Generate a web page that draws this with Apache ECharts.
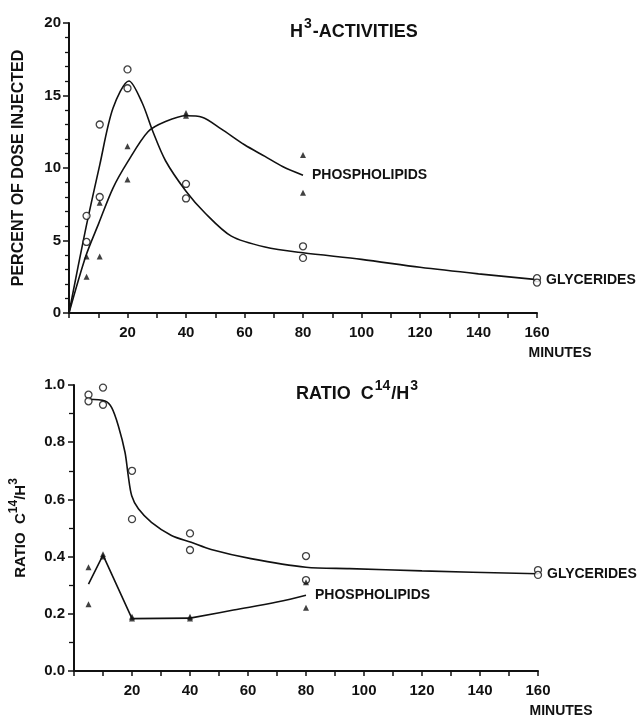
<!DOCTYPE html>
<html>
<head>
<meta charset="utf-8">
<title>H3 activities and C14/H3 ratio</title>
<script src="https://cdn.jsdelivr.net/npm/echarts@6/dist/echarts.min.js"></script>
<style>
  html, body { margin: 0; padding: 0; background: #fff; }
  #chart { width: 639px; height: 719px; }
</style>
</head>
<body>
<div id="chart"></div>
<script>
// upper panel - H3 activities, percent of dose injected
const topGlyTimes = [6, 6, 10.5, 10.5, 20, 20, 40, 40, 80, 80, 160, 160];
const topGlyValues = [6.7, 4.9, 13.0, 8.0, 16.8, 15.5, 8.9, 7.9, 4.6, 3.8, 2.4, 2.1];
const topPhoTimes = [6, 6, 10.5, 10.5, 20, 20, 40, 40, 80, 80];
const topPhoValues = [3.9, 2.5, 7.6, 3.9, 11.5, 9.2, 13.8, 13.6, 10.9, 8.3];

// hand drawn curves
const topGlyCurveX = [0, 5.5, 10.5, 15, 20.5, 25, 28.5, 33, 40, 46.5, 55.5, 67, 80, 100, 120, 140, 160];
const topGlyCurveY = [0, 5.6, 10.2, 14.1, 16.0, 14.5, 12.6, 10.5, 8.4, 6.9, 5.3, 4.55, 4.15, 3.7, 3.15, 2.7, 2.3];
const topPhoCurveX = [0, 5.7, 10.2, 15, 20, 27, 33, 40, 45.5, 52, 60, 67, 73, 80];
const topPhoCurveY = [0, 3.9, 6.2, 8.6, 10.4, 12.5, 13.2, 13.6, 13.5, 12.7, 11.6, 10.8, 10.1, 9.5];

// lower panel - ratio C14/H3
const botGlyTimes = [5, 5, 10, 10, 20, 20, 40, 40, 80, 80, 160, 160];
const botGlyValues = [0.966, 0.943, 0.991, 0.931, 0.70, 0.531, 0.481, 0.423, 0.402, 0.318, 0.353, 0.336];
const botPhoTimes = [5, 5, 10, 10, 20, 20, 40, 40, 80, 80];
const botPhoValues = [0.363, 0.233, 0.408, 0.40, 0.19, 0.184, 0.19, 0.184, 0.31, 0.221];

const botGlyCurveX = [5, 10.7, 13, 15.3, 17.6, 18.7, 19.9, 22.2, 26.7, 33.6, 40.4, 47.3, 61, 80, 95, 120, 160];
const botGlyCurveY = [0.95, 0.944, 0.921, 0.857, 0.764, 0.683, 0.613, 0.567, 0.52, 0.474, 0.45, 0.425, 0.393, 0.363, 0.358, 0.35, 0.34];
// phospholipid ratio: ruled segments up to 40 min, then a curve
const botPhoRuledX = [5, 10, 20, 40];
const botPhoRuledY = [0.304, 0.405, 0.183, 0.185];
const botPhoCurveX = [40, 55, 70, 80];
const botPhoCurveY = [0.185, 0.213, 0.241, 0.265];

const INK = '#111';
const FONT = 'Liberation Sans';

function pairs(xs, ys) {
  return xs.map((x, i) => [x, ys[i]]);
}

const supRich = {
  a: { fontSize: 18, fontWeight: 'bold', color: INK, fontFamily: FONT },
  s: { fontSize: 14, fontWeight: 'bold', color: INK, fontFamily: FONT, padding: [0, 1, 16, 1] }
};

function xAxisFor(gridIndex) {
  return {
    gridIndex: gridIndex,
    type: 'value',
    min: 0,
    max: 160,
    interval: 20,
    axisLine: { onZero: false, lineStyle: { color: INK, width: 2 } },
    axisTick: { length: 5, lineStyle: { color: INK, width: 1.5 } },
    minorTick: { show: true, splitNumber: 2, length: 5, lineStyle: { color: INK, width: 1.5 } },
    splitLine: { show: false },
    axisLabel: {
      margin: 12,
      color: INK,
      fontFamily: FONT,
      fontWeight: 'bold',
      fontSize: 15,
      formatter: v => (v === 0 ? '' : v)
    },
    name: 'MINUTES',
    nameLocation: 'end',
    nameGap: 23,
    nameTextStyle: {
      align: 'center',
      verticalAlign: 'top',
      padding: [33, 0, 0, 0],
      color: INK,
      fontFamily: FONT,
      fontWeight: 'bold',
      fontSize: 14
    }
  };
}

function scatter(name, xi, yi, data, filled) {
  return {
    name: name,
    type: 'scatter',
    xAxisIndex: xi,
    yAxisIndex: yi,
    data: data,
    symbol: filled ? 'triangle' : 'circle',
    symbolSize: filled ? 6 : 7,
    itemStyle: filled
      ? { color: INK }
      : { color: '#fff', borderColor: INK, borderWidth: 1.3 },
    z: filled ? 4 : 3
  };
}

function curve(label, xi, yi, data, smooth) {
  const s = {
    type: 'line',
    xAxisIndex: xi,
    yAxisIndex: yi,
    data: data,
    smooth: smooth,
    showSymbol: false,
    lineStyle: { color: INK, width: 1.6 },
    z: 2
  };
  if (label) {
    s.endLabel = {
      show: true,
      formatter: label,
      distance: 9,
      color: INK,
      fontFamily: FONT,
      fontWeight: 'bold',
      fontSize: 14
    };
  }
  return s;
}

const chart = echarts.init(document.getElementById('chart'));

chart.setOption({
  backgroundColor: '#fff',
  animation: false,
  title: [
    { text: '{a|H}{s|3}{a|-ACTIVITIES}', left: 285, top: 12, textStyle: { rich: supRich } },
    { text: '{a|RATIO  C}{s|14}{a|/H}{s|3}', left: 291, top: 374, textStyle: { rich: supRich } }
  ],
  grid: [
    { left: 69, top: 23, width: 468, height: 290 },
    { left: 72, top: 385, width: 466, height: 286 }
  ],
  xAxis: [xAxisFor(0), xAxisFor(1)],
  yAxis: [
    {
      gridIndex: 0,
      type: 'value',
      min: 0,
      max: 20,
      interval: 5,
      axisLine: { show: true, lineStyle: { color: INK, width: 2 } },
      axisTick: { show: true, length: 6, lineStyle: { color: INK, width: 1.5 } },
      minorTick: { show: true, splitNumber: 5, length: 4, lineStyle: { color: INK, width: 1.3 } },
      splitLine: { show: false },
      axisLabel: { margin: 8, color: INK, fontFamily: FONT, fontWeight: 'bold', fontSize: 15 },
      name: 'PERCENT OF DOSE INJECTED',
      nameLocation: 'middle',
      nameRotate: 90,
      nameGap: 42,
      nameTextStyle: { color: INK, fontFamily: FONT, fontWeight: 'bold', fontSize: 16 }
    },
    {
      gridIndex: 1,
      type: 'value',
      min: 0,
      max: 1,
      interval: 0.2,
      axisLine: { show: true, lineStyle: { color: INK, width: 2 } },
      axisTick: { show: true, length: 6, lineStyle: { color: INK, width: 1.5 } },
      minorTick: { show: true, splitNumber: 2, length: 5, lineStyle: { color: INK, width: 1.3 } },
      splitLine: { show: false },
      axisLabel: {
        margin: 9, color: INK, fontFamily: FONT, fontWeight: 'bold', fontSize: 15,
        formatter: v => v.toFixed(1)
      },
      name: '{a|RATIO  C}{s|14}{a|/H}{s|3}',
      nameLocation: 'middle',
      nameRotate: 90,
      nameGap: 40,
      nameTextStyle: {
        rich: {
          a: { fontSize: 15, fontWeight: 'bold', color: INK, fontFamily: FONT },
          s: { fontSize: 12, fontWeight: 'bold', color: INK, fontFamily: FONT, padding: [0, 0, 14, 0] }
        }
      }
    }
  ],
  series: [
    curve('GLYCERIDES', 0, 0, pairs(topGlyCurveX, topGlyCurveY), 0.3),
    curve('PHOSPHOLIPIDS', 0, 0, pairs(topPhoCurveX, topPhoCurveY), 0.3),
    scatter('Glycerides', 0, 0, pairs(topGlyTimes, topGlyValues), false),
    scatter('Phospholipids', 0, 0, pairs(topPhoTimes, topPhoValues), true),

    curve('GLYCERIDES', 1, 1, pairs(botGlyCurveX, botGlyCurveY), 0.3),
    curve(null, 1, 1, pairs(botPhoRuledX, botPhoRuledY), false),
    curve('PHOSPHOLIPIDS', 1, 1, pairs(botPhoCurveX, botPhoCurveY), 0.4),
    scatter('Glycerides', 1, 1, pairs(botGlyTimes, botGlyValues), false),
    scatter('Phospholipids', 1, 1, pairs(botPhoTimes, botPhoValues), true)
  ]
});

window.addEventListener('resize', () => chart.resize());
</script>
</body>
</html>
